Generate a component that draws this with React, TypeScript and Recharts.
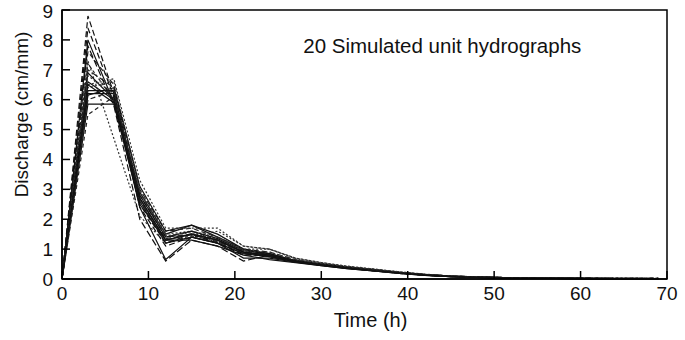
import React from 'react';
import { LineChart, Line, XAxis, YAxis, ReferenceArea, ReferenceDot } from 'recharts';

const times = [0, 3, 6, 9, 12, 15, 18, 21, 24, 27, 30, 33, 36, 39, 42, 45, 48, 51, 54, 57, 60, 63, 66, 69];

const s1 = [0, 8.8, 6.2, 2.4, 1.1, 1.4, 1.2, 0.8, 0.8, 0.6, 0.48, 0.38, 0.3, 0.2, 0.14, 0.09, 0.06, 0.04, 0.03, 0.02, 0.02, 0.01, 0.01, 0.01];
const s2 = [0, 8.0, 5.9, 2.9, 1.5, 1.8, 1.4, 1.0, 0.8, 0.6, 0.5, 0.4, 0.32, 0.22, 0.15, 0.1, 0.07, 0.05, 0.03, 0.02, 0.02, 0.01, 0.01, 0.01];
const s3 = [0, 7.6, 6.5, 3.0, 1.6, 1.7, 1.4, 1.0, 0.9, 0.65, 0.5, 0.4, 0.3, 0.22, 0.15, 0.1, 0.07, 0.05, 0.04, 0.03, 0.02, 0.02, 0.01, 0.01];
const s4 = [0, 7.3, 4.7, 2.1, 1.2, 1.4, 1.6, 1.1, 1.0, 0.7, 0.55, 0.42, 0.33, 0.24, 0.16, 0.1, 0.07, 0.05, 0.04, 0.03, 0.02, 0.02, 0.02, 0.01];
const s5 = [0, 7.0, 6.4, 2.8, 1.4, 1.5, 1.3, 0.9, 0.8, 0.6, 0.5, 0.38, 0.3, 0.21, 0.14, 0.09, 0.06, 0.04, 0.03, 0.02, 0.02, 0.01, 0.01, 0.01];
const s6 = [0, 6.6, 6.0, 2.7, 1.3, 1.5, 1.3, 0.9, 0.75, 0.58, 0.47, 0.37, 0.29, 0.2, 0.13, 0.09, 0.06, 0.04, 0.03, 0.02, 0.01, 0.01, 0.01, 0.01];
const s7 = [0, 6.3, 6.3, 2.6, 1.2, 1.4, 1.2, 0.85, 0.75, 0.57, 0.46, 0.36, 0.28, 0.2, 0.13, 0.08, 0.05, 0.04, 0.03, 0.02, 0.01, 0.01, 0.01, 0.01];
const s8 = [0, 6.15, 6.4, 3.1, 1.6, 1.8, 1.5, 1.0, 0.85, 0.62, 0.5, 0.4, 0.31, 0.22, 0.15, 0.1, 0.07, 0.05, 0.03, 0.02, 0.02, 0.01, 0.01, 0.01];
const s9 = [0, 5.85, 5.85, 2.5, 1.3, 1.3, 1.1, 0.8, 0.65, 0.55, 0.45, 0.35, 0.27, 0.19, 0.12, 0.08, 0.05, 0.04, 0.03, 0.02, 0.01, 0.01, 0.01, 0.01];
const s10 = [0, 5.5, 6.1, 2.9, 1.4, 1.6, 1.3, 0.9, 0.8, 0.6, 0.48, 0.37, 0.29, 0.2, 0.14, 0.09, 0.06, 0.05, 0.04, 0.03, 0.03, 0.02, 0.02, 0.02];
const s11 = [0, 6.5, 6.7, 3.3, 1.7, 1.7, 1.7, 1.1, 1.0, 0.7, 0.55, 0.43, 0.34, 0.24, 0.16, 0.1, 0.07, 0.05, 0.04, 0.03, 0.02, 0.02, 0.02, 0.01];
const s12 = [0, 7.8, 5.8, 2.0, 0.6, 1.3, 1.1, 0.6, 0.8, 0.58, 0.46, 0.36, 0.28, 0.19, 0.13, 0.08, 0.06, 0.04, 0.03, 0.03, 0.02, 0.02, 0.02, 0.02];
const s13 = [0, 6.9, 6.0, 2.4, 0.65, 1.4, 1.2, 0.7, 0.7, 0.56, 0.45, 0.35, 0.27, 0.19, 0.12, 0.08, 0.05, 0.04, 0.03, 0.02, 0.01, 0.01, 0.01, 0.01];
const s14 = [0, 6.4, 6.6, 3.0, 1.5, 1.6, 1.4, 1.0, 1.0, 0.68, 0.53, 0.41, 0.32, 0.23, 0.15, 0.1, 0.07, 0.05, 0.04, 0.03, 0.02, 0.02, 0.01, 0.01];
const s15 = [0, 7.2, 6.0, 2.7, 1.2, 1.45, 1.25, 0.85, 0.8, 0.6, 0.48, 0.38, 0.29, 0.2, 0.14, 0.09, 0.06, 0.04, 0.03, 0.02, 0.02, 0.02, 0.02, 0.02];
const s16 = [0, 6.2, 6.2, 2.8, 1.4, 1.6, 1.35, 0.95, 0.85, 0.62, 0.5, 0.39, 0.3, 0.21, 0.14, 0.09, 0.06, 0.04, 0.03, 0.02, 0.02, 0.01, 0.01, 0.01];
const s17 = [0, 6.8, 6.2, 2.9, 1.45, 1.55, 1.3, 0.95, 0.9, 0.64, 0.51, 0.4, 0.31, 0.22, 0.15, 0.1, 0.07, 0.05, 0.04, 0.03, 0.02, 0.02, 0.01, 0.01];
const s18 = [0, 6.0, 6.3, 2.6, 1.35, 1.5, 1.25, 0.9, 0.8, 0.6, 0.48, 0.37, 0.29, 0.2, 0.13, 0.09, 0.06, 0.05, 0.04, 0.03, 0.03, 0.02, 0.02, 0.02];
const s19 = [0, 6.5, 5.9, 2.7, 1.3, 1.5, 1.3, 0.9, 0.8, 0.6, 0.47, 0.37, 0.28, 0.2, 0.13, 0.08, 0.05, 0.04, 0.03, 0.02, 0.01, 0.01, 0.01, 0.01];
const s20 = [0, 8.4, 6.1, 2.5, 1.2, 1.5, 1.2, 0.85, 0.75, 0.58, 0.46, 0.36, 0.28, 0.2, 0.13, 0.08, 0.06, 0.04, 0.03, 0.02, 0.02, 0.02, 0.02, 0.02];

const series = [s1, s2, s3, s4, s5, s6, s7, s8, s9, s10, s11, s12, s13, s14, s15, s16, s17, s18, s19, s20];

const xTicks = [0, 10, 20, 30, 40, 50, 60, 70];
const yTicks = [0, 1, 2, 3, 4, 5, 6, 7, 8, 9];

const titleText = '20 Simulated unit hydrographs';
const xLabel = 'Time (h)';
const yLabel = 'Discharge (cm/mm)';

const dashStyles = [
  '6 3', undefined, '5 3', '2 2', '6 3', undefined, undefined, undefined, undefined, '4 3',
  '2 2', '7 3', undefined, '2 2', '3 2', undefined, '2 2', '5 3', undefined, '6 3',
];
const colors = [
  '#111', '#111', '#222', '#333', '#222', '#111', '#111', '#111', '#111', '#222',
  '#333', '#111', '#111', '#333', '#222', '#111', '#333', '#222', '#111', '#111',
];

const data = times.map((t, i) => {
  const row: Record<string, number> = { t };
  series.forEach((s, j) => {
    row['s' + (j + 1)] = s[i];
  });
  return row;
});

const font = '"Liberation Sans", Arial, Helvetica, sans-serif';

export default function App() {
  return (
    <div style={{ position: 'absolute', left: 0, top: 0, width: 685, height: 340, background: '#fff' }}>
      <LineChart
        width={685}
        height={340}
        data={data}
        margin={{ top: 10, right: 18, left: 0, bottom: 0 }}
        style={{ fontFamily: font }}
      >
        <XAxis
          dataKey="t"
          type="number"
          domain={[0, 70]}
          ticks={xTicks}
          height={61}
          tickSize={-8}
          tickMargin={16}
          stroke="#000"
          strokeWidth={1.5}
          tick={{ fill: '#111', fontSize: 19, fontFamily: font }}
          label={{ value: xLabel, position: 'center', dx: 6, dy: 10, fill: '#111', fontSize: 20, fontFamily: font }}
        />
        <YAxis
          type="number"
          domain={[0, 9]}
          ticks={yTicks}
          width={62}
          tickSize={-8}
          tickMargin={17}
          stroke="#000"
          strokeWidth={1.5}
          tick={{ fill: '#111', fontSize: 19, fontFamily: font }}
          label={{ value: yLabel, angle: -90, position: 'center', dx: -10, dy: -30, fill: '#111', fontSize: 19, fontFamily: font }}
        />
        <ReferenceArea x1={0} x2={70} y1={0} y2={9} fill="none" stroke="#000" strokeWidth={1.5} />
        {series.map((_, j) => (
          <Line
            key={j}
            dataKey={'s' + (j + 1)}
            type="linear"
            stroke={colors[j]}
            strokeWidth={1.2}
            strokeDasharray={dashStyles[j]}
            dot={false}
            isAnimationActive={false}
          />
        ))}
        <ReferenceDot
          x={44}
          y={7.81}
          r={0}
          fill="none"
          stroke="none"
          label={{ value: titleText, position: 'center', fill: '#111', fontSize: 20.5, fontFamily: font }}
        />
      </LineChart>
    </div>
  );
}
